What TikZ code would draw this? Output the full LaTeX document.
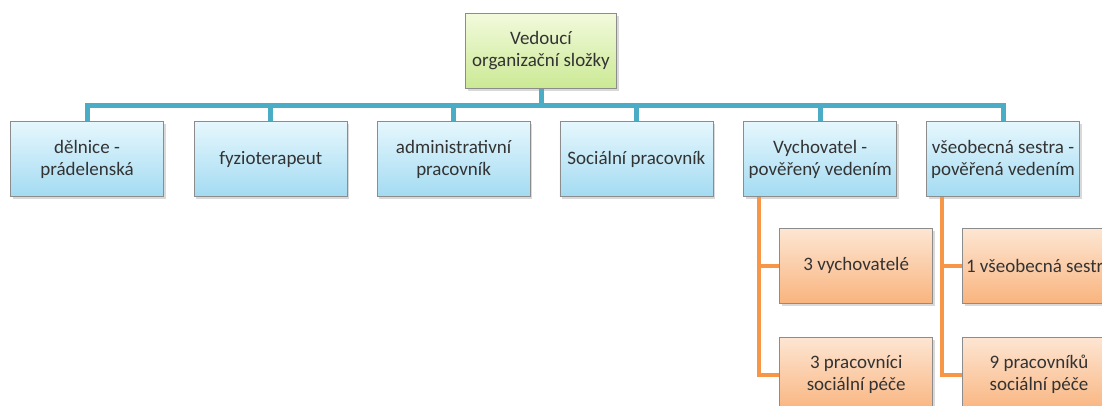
\documentclass[tikz,border=0pt]{standalone}
\usepackage{fontspec}
\setmainfont{Carlito}
\usepackage{tikz}
\usetikzlibrary{positioning,shadows}
\definecolor{busblue}{HTML}{4BACC6}
\definecolor{suborange}{HTML}{F79646}
\definecolor{boxline}{HTML}{8C8C8C}
\definecolor{bluetop}{HTML}{E6F7FD}
\definecolor{bluebot}{HTML}{A3DBF2}
\definecolor{greentop}{HTML}{F2FADC}
\definecolor{greenbot}{HTML}{CBE994}
\definecolor{orangetop}{HTML}{FDE6D3}
\definecolor{orangebot}{HTML}{F9B47E}

\begin{document}
\begin{tikzpicture}[x=1pt, y=-1pt,
        box/.style={draw=boxline, line width=0.8pt, minimum width=153pt, minimum height=75pt, align=center,
            font=\fontsize{19}{22}\selectfont, text=black!80, inner sep=1pt,
            drop shadow={shadow xshift=2pt, shadow yshift=-2.5pt, opacity=0.3}},
        headbox/.style={box, minimum width=151pt, top color=greentop, bottom color=greenbot},
        staffbox/.style={box, top color=bluetop, bottom color=bluebot},
        teambox/.style={box, top color=orangetop, bottom color=orangebot},
        bus/.style={draw=busblue, line width=5pt},
        sub/.style={draw=suborange, line width=4pt}
    ]
    \useasboundingbox (0,0) rectangle (1102,405);
    \clip (0,0) rectangle (1102,405);
    % vedení
    \node[headbox] (head) at (541,51) {Vedoucí\\organizační složky};
    \coordinate (bus) at (541,105);
    % první úroveň
    \node[staffbox] (pradelna) at (87,159) {dělnice -\\prádelenská};
    \node[staffbox, right=30pt of pradelna] (fyzio) {fyzioterapeut};
    \node[staffbox, right=29pt of fyzio] (admin) {administrativní\\pracovník};
    \node[staffbox, right=29pt of admin] (socprac) {Sociální pracovník};
    \node[staffbox, right=30pt of socprac] (vychov) {Vychovatel -\\pověřený vedením};
    \node[staffbox, right=29pt of vychov] (sestra) {všeobecná sestra -\\pověřená vedením};
    % druhá úroveň
    \node[teambox, below right=31pt and 36pt of vychov.south west] (vych3) {3 vychovatelé};
    \node[teambox, below=33pt of vych3] (pece3) {3 pracovníci\\sociální péče};
    \node[teambox, below right=31pt and 36pt of sestra.south west] (sestra1) {1 všeobecná sestra};
    \node[teambox, below=33pt of sestra1] (pece9) {9 pracovníků\\sociální péče};
    % spojnice
    \draw[bus] (head.south) -- (bus);
    \foreach \n in {pradelna,fyzio,admin,socprac,vychov,sestra}
        \draw[bus] (\n.north) |- (bus);
    \draw[sub] ([xshift=16pt]vychov.south west) |- (vych3.west);
    \draw[sub] ([xshift=16pt]vychov.south west) |- (pece3.west);
    \draw[sub] ([xshift=16pt]sestra.south west) |- (sestra1.west);
    \draw[sub] ([xshift=16pt]sestra.south west) |- (pece9.west);
\end{tikzpicture}
\end{document}
